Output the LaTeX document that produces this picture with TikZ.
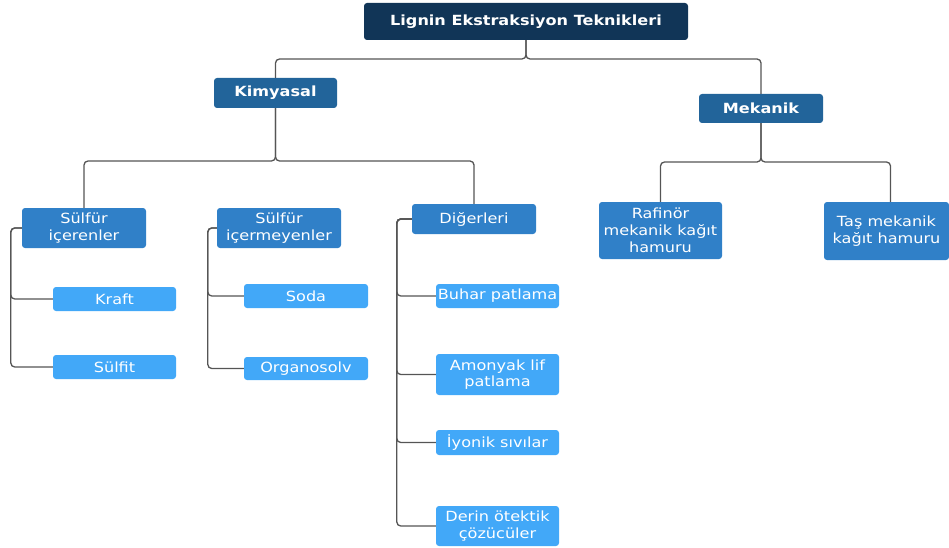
\documentclass[tikz,border=0pt]{standalone}
\usepackage{fontspec}
\setmainfont[FakeStretch=1.15]{DejaVu Sans}
\usetikzlibrary{calc}
\definecolor{cRoot}{HTML}{113557}
\definecolor{cLvl}{HTML}{22649A}
\definecolor{cMid}{HTML}{3080C8}
\definecolor{cLeaf}{HTML}{42A8F8}
\definecolor{cLine}{HTML}{555555}
\tikzset{
  base/.style={rounded corners=3pt, text=white, align=center, inner sep=0pt},
  rootbox/.style={base, fill=cRoot, font=\bfseries\fontsize{14}{16}\selectfont},
  lvlbox/.style={base, fill=cLvl, font=\bfseries\fontsize{14}{16}\selectfont},
  midbox/.style={base, fill=cMid, font=\fontsize{14}{16.8}\selectfont},
  leafbox/.style={base, fill=cLeaf, font=\fontsize{14}{16.5}\selectfont},
  conn/.style={draw=cLine, line width=1.3pt, rounded corners=4pt},
}
\begin{document}
\begin{tikzpicture}[x=1pt,y=-1pt]
\useasboundingbox (0,0) rectangle (949,548);
% nodes
\node[rootbox, minimum width=324pt, minimum height=37pt] (root) at (526,21.5) {Lignin Ekstraksiyon Teknikleri};
\node[lvlbox, minimum width=123pt, minimum height=30pt] (kim) at (275.5,93) {Kimyasal};
\node[lvlbox, minimum width=124pt, minimum height=29pt] (mek) at (761,108.5) {Mekanik};
\node[midbox, minimum width=124pt, minimum height=40pt] (si) at (84,228) {Sülfür\\içerenler};
\node[midbox, minimum width=124pt, minimum height=40pt] (sm) at (279,228) {Sülfür\\içermeyenler};
\node[midbox, minimum width=124pt, minimum height=30pt] (dig) at (474,219) {Diğerleri};
\node[midbox, minimum width=123pt, minimum height=57pt] (raf) at (660.5,230.5) {Rafinör\\mekanik kağıt\\hamuru};
\node[midbox, minimum width=125pt, minimum height=58pt] (tas) at (886.5,231) {Taş mekanik\\kağıt hamuru};
\node[leafbox, minimum width=123pt, minimum height=24pt] (kraft) at (114.5,299) {Kraft};
\node[leafbox, minimum width=123pt, minimum height=24pt] (sulfit) at (114.5,367) {Sülfit};
\node[leafbox, minimum width=124pt, minimum height=24pt] (soda) at (306,296) {Soda};
\node[leafbox, minimum width=124pt, minimum height=23pt] (org) at (306,368.5) {Organosolv};
\node[leafbox, minimum width=123pt, minimum height=24pt] (buhar) at (497.5,296) {Buhar patlama};
\node[leafbox, minimum width=123pt, minimum height=41pt] (amon) at (497.5,374.5) {Amonyak lif\\patlama};
\node[leafbox, minimum width=123pt, minimum height=25pt] (iyon) at (497.5,442.5) {İyonik sıvılar};
\node[leafbox, minimum width=123pt, minimum height=40pt] (derin) at (497.5,526) {Derin ötektik\\çözücüler};
% bar coordinates
\coordinate (rbar) at (0,59);
\coordinate (kbar) at (0,161);
\coordinate (mbar) at (0,162);
% connectors
\draw[conn] (root.south) -- (root.south |- rbar) -| (kim.north);
\draw[conn] (root.south) -- (root.south |- rbar) -| (mek.north);
\draw[conn] (kim.south) -- (kim.south |- kbar) -| (si.north);
\draw[conn] (kim.south) -- (kim.south |- kbar) -| (dig.north);
\draw[conn] (mek.south) -- (mek.south |- mbar) -| (raf.north);
\draw[conn] (mek.south) -- (mek.south |- mbar) -| ($(tas.north)+(4,0)$);
\coordinate (sib) at ($(si.west)+(-11,0)$);
\coordinate (smb) at ($(sm.west)+(-9,0)$);
\coordinate (digb) at ($(dig.west)+(-15,0)$);
\draw[conn] (si.west) -- (sib) |- (kraft.west);
\draw[conn] (si.west) -- (sib) |- (sulfit.west);
\draw[conn] (sm.west) -- (smb) |- (soda.west);
\draw[conn] (sm.west) -- (smb) |- (org.west);
\draw[conn] (dig.west) -- (digb) |- (buhar.west);
\draw[conn] (dig.west) -- (digb) |- (amon.west);
\draw[conn] (dig.west) -- (digb) |- (iyon.west);
\draw[conn] (dig.west) -- (digb) |- (derin.west);
\end{tikzpicture}
\end{document}
